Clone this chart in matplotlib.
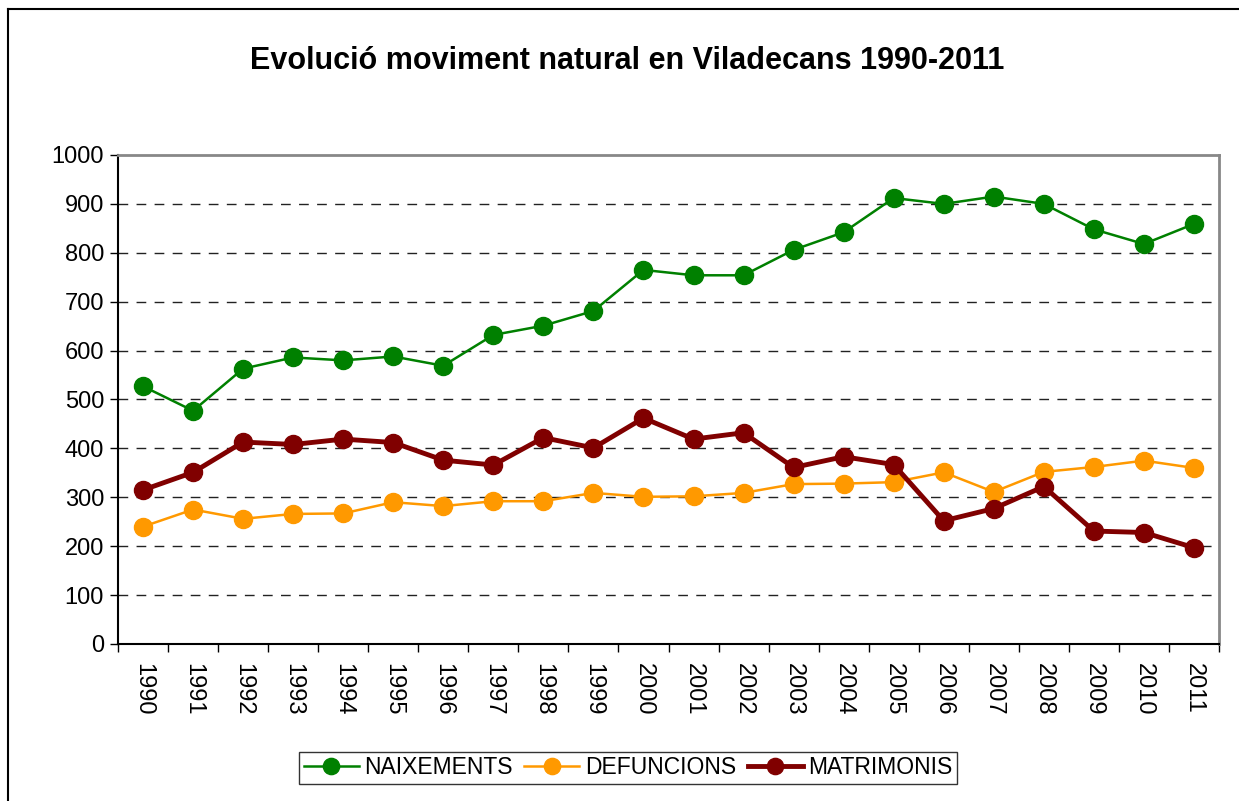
import matplotlib
matplotlib.use("Agg")
import matplotlib.pyplot as plt
from matplotlib.lines import Line2D

plt.rcParams['font.family'] = ['Liberation Sans', 'DejaVu Sans']

# data
years = [str(y) for y in range(1990, 2012)]
naixements = [527, 477, 563, 586, 580, 588, 569, 632, 651, 681, 765, 754, 754,
              806, 842, 912, 900, 915, 900, 848, 818, 859]
defuncions = [240, 275, 256, 266, 267, 290, 282, 292, 292, 309, 301, 302, 309,
              327, 328, 331, 351, 311, 352, 362, 375, 360]
matrimonis = [315, 351, 413, 408, 419, 412, 376, 366, 422, 401, 462, 419, 432,
              361, 383, 367, 252, 277, 322, 231, 228, 197]

fig = plt.figure(figsize=(12.39, 8.01), dpi=100)
ax = fig.add_axes([118/1239, 157/801, 1101/1239, 489/801])

x = list(range(len(years)))
ax.plot(x, naixements, color='#008000', lw=1.8, marker='o', ms=13, label='NAIXEMENTS', zorder=3)
ax.plot(x, defuncions, color='#FF9900', lw=1.8, marker='o', ms=13, label='DEFUNCIONS', zorder=3)
ax.plot(x, matrimonis, color='#800000', lw=3.5, marker='o', ms=13, label='MATRIMONIS', zorder=4)

ax.set_xlim(-0.5, len(years) - 0.5)
ax.set_ylim(0, 1000)
ax.set_yticks(range(0, 1001, 100))
ax.set_xticks(x)
ax.set_xticklabels(years, rotation=-90)
ax.set_xticks([i - 0.5 for i in range(len(years) + 1)], minor=True)
ax.tick_params(axis='x', which='major', length=0, pad=14, labelsize=17)
ax.tick_params(axis='x', which='minor', length=6, width=1, direction='out')
ax.tick_params(axis='y', length=6, width=1, direction='out', labelsize=17, pad=4)

for v in range(100, 1000, 100):
    ax.axhline(v, color='#222222', lw=1, ls=(0, (7, 6)), zorder=1)

ax.spines['left'].set_linewidth(1.5)
ax.spines['bottom'].set_linewidth(1.5)
ax.spines['top'].set_color('#888888')
ax.spines['right'].set_color('#888888')
ax.spines['top'].set_linewidth(2)
ax.spines['right'].set_linewidth(2)

fig.text(627/1239, 1 - 61/801, 'Evolució moviment natural en Viladecans 1990-2011',
         ha='center', va='center', fontsize=22, fontweight='bold')

leg = fig.legend(loc='center', bbox_to_anchor=(628/1239, 1 - 768/801), ncol=3,
                 fontsize=16.5, frameon=True, fancybox=False, handlelength=2.4,
                 handletextpad=0.25, columnspacing=0.5, borderpad=0.2, markerscale=0.9)
leg.get_frame().set_edgecolor('black')
leg.get_frame().set_linewidth(1)

# outer chart border (only top and left visible)
fig.add_artist(Line2D([8/1239, 8/1239], [0, 1 - 9/801], color='black', lw=1.5))
fig.add_artist(Line2D([8/1239, 1], [1 - 9/801, 1 - 9/801], color='black', lw=1.5))

fig.savefig('out.png', dpi=100, facecolor='white')
